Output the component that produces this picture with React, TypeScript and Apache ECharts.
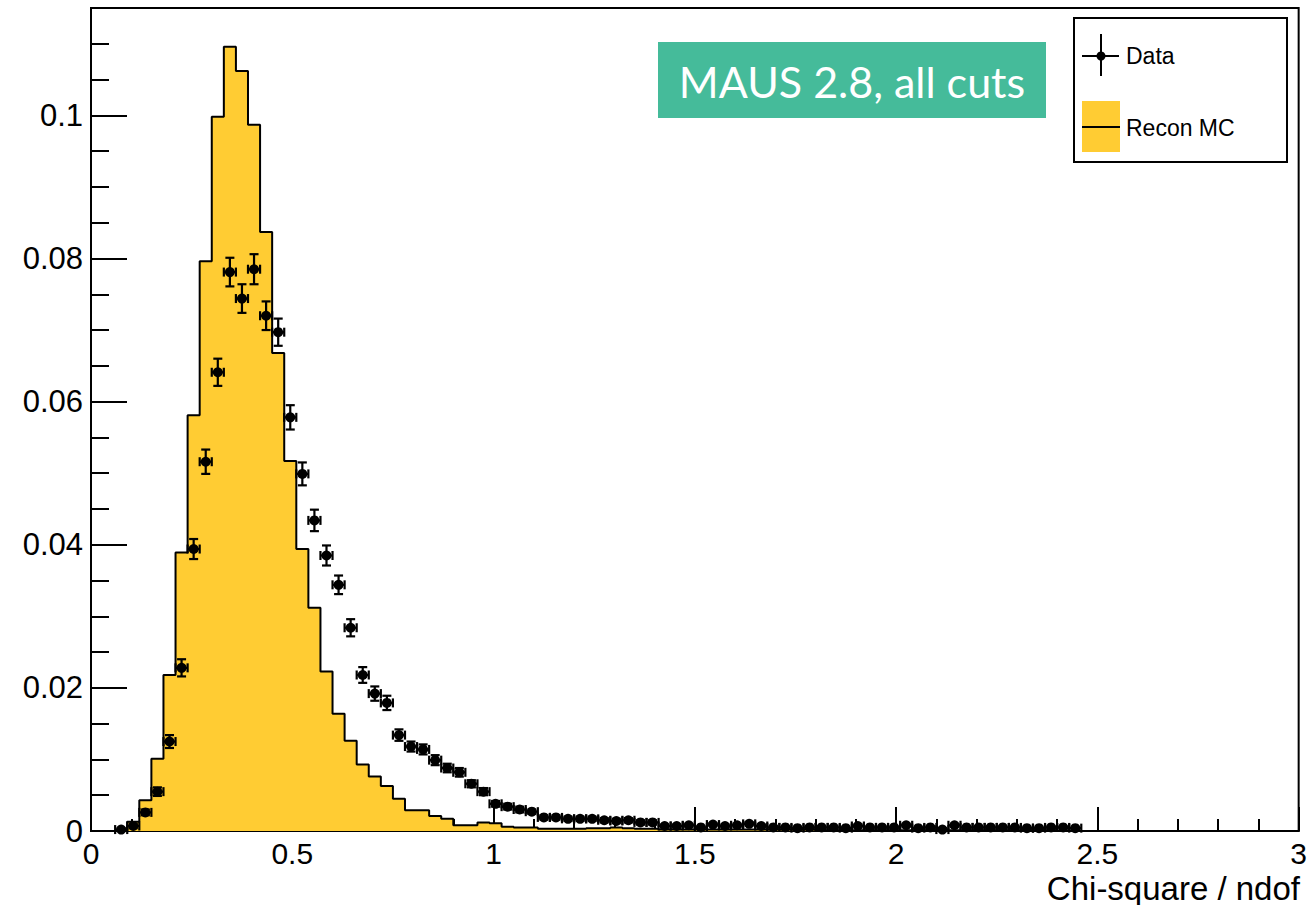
import React, { useEffect, useRef } from 'react';
import * as echarts from 'echarts';

// Histogram binning: 100 bins of width 0.03 over [0, 3]
const binWidth = 0.03;
const xTickLabels = ['0', '0.5', '1', '1.5', '2', '2.5', '3'];
const yTickLabels = ['0', '0.02', '0.04', '0.06', '0.08', '0.1'];

// Recon MC histogram contents (per bin)
const mcValues: number[] = [
  0, 0, 0, 0.0013, 0.0043, 0.0101, 0.0218, 0.0389, 0.0581, 0.0796,
  0.0998, 0.1096, 0.1062, 0.0987, 0.0837, 0.0668, 0.0517, 0.0394, 0.0312, 0.0223,
  0.0164, 0.0126, 0.0093, 0.0076, 0.0063, 0.0045, 0.0029, 0.0029, 0.0021, 0.0017,
  0.0008, 0.0008, 0.0012, 0.0011, 0.0006, 0.0005, 0.0005, 0.0003, 0.0003, 0.0003,
  0.0003, 0.0004, 0.0004, 0.0005, 0.0004, 0.0003, 0.0003, 0.0002, 0.0002, 0.0002,
  0.0002, 0.0002, 0.0002, 0.0002, 0.0002, 0.0002, 0.0002, 0.0002, 0.0002, 0.0002,
  0.0001, 0.0001, 0.0001, 0.0001, 0.0001, 0.0001, 0.0001, 0.0001, 0.0001, 0.0001,
  0.0001, 0.0001, 0.0001, 0.0001, 0.0001, 0.0001, 0.0001, 0.0001, 0.0001, 0.0001,
  0, 0, 0, 0, 0, 0, 0, 0, 0, 0,
  0, 0, 0, 0, 0, 0, 0, 0, 0, 0,
];

// Data histogram contents (per bin, null = empty)
const dataValues: (number | null)[] = [
  null, null, 0.0002, 0.0007, 0.0026, 0.0055, 0.0125, 0.0228, 0.0394, 0.0516,
  0.0641, 0.0781, 0.0744, 0.0785, 0.0720, 0.0697, 0.0578, 0.0499, 0.0434, 0.0385,
  0.0344, 0.0284, 0.0218, 0.0192, 0.0179, 0.0134, 0.0118, 0.0114, 0.0099, 0.0088,
  0.0082, 0.0066, 0.0055, 0.0038, 0.0034, 0.0030, 0.0027, 0.0019, 0.0019, 0.0017,
  0.0017, 0.0017, 0.0015, 0.0014, 0.0015, 0.0012, 0.0012, 0.0007, 0.0007, 0.0008,
  0.0005, 0.0009, 0.0007, 0.0008, 0.0010, 0.0007, 0.0005, 0.0005, 0.0004, 0.0005,
  0.0005, 0.0005, 0.0004, 0.0007, 0.0005, 0.0005, 0.0005, 0.0008, 0.0004, 0.0005,
  0.0002, 0.0008, 0.0005, 0.0005, 0.0005, 0.0005, 0.0005, 0.0004, 0.0004, 0.0005,
  0.0005, 0.0004,
];

// Statistical errors on the data (per bin)
const dataErrors: number[] = [
  0, 0, 0.0002, 0.0003, 0.0004, 0.0006, 0.0009, 0.0012, 0.0014, 0.0017,
  0.0019, 0.0020, 0.0020, 0.0021, 0.0020, 0.0019, 0.0017, 0.0016, 0.0015, 0.0014,
  0.0013, 0.0012, 0.0011, 0.0010, 0.0010, 0.0008, 0.0007, 0.0007, 0.0007, 0.0006,
  0.0006, 0.0005, 0.0005, 0.0004, 0.0004, 0.0004, 0.0003, 0.0003, 0.0003, 0.0003,
  0.0003, 0.0003, 0.0003, 0.0003, 0.0003, 0.0003, 0.0003, 0.0002, 0.0002, 0.0002,
  0.0002, 0.0002, 0.0002, 0.0002, 0.0002, 0.0002, 0.0002, 0.0002, 0.0002, 0.0002,
  0.0002, 0.0002, 0.0002, 0.0002, 0.0002, 0.0002, 0.0002, 0.0002, 0.0002, 0.0002,
  0.0002, 0.0002, 0.0002, 0.0002, 0.0002, 0.0002, 0.0002, 0.0002, 0.0002, 0.0002,
  0.0002, 0.0002,
];

const FONT = '"Liberation Sans", Arial, Helvetica, sans-serif';
const MC_COLOR = '#FFCC33';
const LABEL_COLOR = '#45BB9A';

export default function App() {
  const ref = useRef<HTMLDivElement>(null);

  useEffect(() => {
    if (!ref.current) return;
    const chart = echarts.init(ref.current, undefined, { renderer: 'svg' });

    const stepData: [number, number][] = [];
    mcValues.forEach((v, k) => {
      const lo = +(k * binWidth).toFixed(4);
      const hi = +((k + 1) * binWidth).toFixed(4);
      stepData.push([lo, v], [hi, v]);
    });

    const pointData: [number, number, number][] = [];
    dataValues.forEach((v, k) => {
      if (v === null) return;
      pointData.push([+((k + 0.5) * binWidth).toFixed(4), v, dataErrors[k]]);
    });

    const halfBin = binWidth / 2;

    const option: any = {
      animation: false,
      backgroundColor: '#fff',
      grid: {
        left: 91, top: 8, right: 10, bottom: 74,
        show: true, borderColor: '#000', borderWidth: 2, backgroundColor: 'transparent',
      },
      xAxis: {
        type: 'value', min: 0, max: 3, interval: 0.5,
        axisLine: { show: true, onZero: false, lineStyle: { color: '#000', width: 2 } },
        axisTick: { show: true, inside: true, length: 24, lineStyle: { color: '#000', width: 2 } },
        minorTick: { show: true, splitNumber: 5, length: 12, lineStyle: { color: '#000', width: 2 } },
        splitLine: { show: false },
        axisLabel: {
          color: '#000', fontSize: 30, fontFamily: FONT, margin: 7,
          formatter: (v: number) => xTickLabels[Math.round(v / 0.5)] ?? '',
        },
      },
      yAxis: [
        {
          type: 'value', min: 0, max: 0.115, interval: 0.02, position: 'left',
          axisLine: { show: true, onZero: false, lineStyle: { color: '#000', width: 2 } },
          axisTick: { show: true, inside: true, length: 36, lineStyle: { color: '#000', width: 2 } },
          splitLine: { show: false },
          axisLabel: {
            color: '#000', fontSize: 31, fontFamily: FONT, margin: 8, showMaxLabel: false,
            formatter: (v: number) => {
              const i = Math.round(v / 0.02);
              return Math.abs(i * 0.02 - v) < 1e-6 ? (yTickLabels[i] ?? '') : '';
            },
          },
        },
        {
          type: 'value', min: 0, max: 0.115, interval: 0.005, position: 'left',
          axisLine: { show: false },
          axisTick: { show: true, inside: true, length: 18, lineStyle: { color: '#000', width: 2 } },
          splitLine: { show: false },
          axisLabel: { show: false },
        },
      ],
      series: [
        {
          name: 'Recon MC',
          type: 'line',
          yAxisIndex: 0,
          data: stepData,
          symbol: 'none',
          lineStyle: { color: '#000', width: 2 },
          areaStyle: { color: MC_COLOR, opacity: 1, origin: 'start' },
          z: 2,
        },
        {
          name: 'Data',
          type: 'custom',
          yAxisIndex: 0,
          data: pointData,
          z: 5,
          renderItem: (params: any, api: any) => {
            const x = api.value(0);
            const y = api.value(1);
            const e = api.value(2);
            const c = api.coord([x, y]);
            const l = api.coord([x - halfBin, y]);
            const r = api.coord([x + halfBin, y]);
            const t = api.coord([x, y + e]);
            const b = api.coord([x, y - e]);
            const st = { stroke: '#000', lineWidth: 2.2 };
            const cap = 4.5;
            return {
              type: 'group',
              children: [
                { type: 'line', shape: { x1: l[0], y1: c[1], x2: r[0], y2: c[1] }, style: st },
                { type: 'line', shape: { x1: l[0], y1: c[1] - cap, x2: l[0], y2: c[1] + cap }, style: st },
                { type: 'line', shape: { x1: r[0], y1: c[1] - cap, x2: r[0], y2: c[1] + cap }, style: st },
                { type: 'line', shape: { x1: c[0], y1: t[1], x2: c[0], y2: b[1] }, style: st },
                { type: 'line', shape: { x1: c[0] - cap, y1: t[1], x2: c[0] + cap, y2: t[1] }, style: st },
                { type: 'line', shape: { x1: c[0] - cap, y1: b[1], x2: c[0] + cap, y2: b[1] }, style: st },
                { type: 'circle', shape: { cx: c[0], cy: c[1], r: 5 }, style: { fill: '#000' } },
              ],
            };
          },
        },
      ],
      graphic: [
        {
          type: 'rect', shape: { x: 658, y: 42, width: 388, height: 76 },
          style: { fill: LABEL_COLOR }, z: 10,
        },
        {
          type: 'text', x: 852, y: 81, z: 11,
          style: {
            text: 'MAUS 2.8, all cuts', fill: '#fff', fontSize: 43, fontFamily: 'Lato, "Open Sans", sans-serif',
            align: 'center', verticalAlign: 'middle',
          },
        },
        {
          type: 'rect', shape: { x: 1074, y: 18, width: 213, height: 144 },
          style: { fill: '#fff', stroke: '#000', lineWidth: 2 }, z: 10,
        },
        { type: 'line', shape: { x1: 1082, y1: 56, x2: 1119, y2: 56 }, style: { stroke: '#000', lineWidth: 2 }, z: 11 },
        { type: 'line', shape: { x1: 1101, y1: 34, x2: 1101, y2: 76 }, style: { stroke: '#000', lineWidth: 2 }, z: 11 },
        { type: 'circle', shape: { cx: 1101, cy: 56, r: 4.5 }, style: { fill: '#000' }, z: 11 },
        {
          type: 'text', x: 1126, y: 56, z: 11,
          style: { text: 'Data', fill: '#000', fontSize: 23, fontFamily: FONT, align: 'left', verticalAlign: 'middle' },
        },
        { type: 'rect', shape: { x: 1082, y: 101, width: 38, height: 51 }, style: { fill: MC_COLOR }, z: 11 },
        { type: 'line', shape: { x1: 1082, y1: 127, x2: 1120, y2: 127 }, style: { stroke: '#000', lineWidth: 2 }, z: 12 },
        {
          type: 'text', x: 1126, y: 128, z: 11,
          style: { text: 'Recon MC', fill: '#000', fontSize: 23, fontFamily: FONT, align: 'left', verticalAlign: 'middle' },
        },
        {
          type: 'text', x: 1300, y: 888, z: 11,
          style: {
            text: 'Chi-square / ndof', fill: '#000', fontSize: 33, fontFamily: FONT,
            align: 'right', verticalAlign: 'middle',
          },
        },
      ],
    };

    chart.setOption(option);
    return () => chart.dispose();
  }, []);

  return (
    <div
      ref={ref}
      style={{ position: 'absolute', left: 0, top: 0, width: 1310, height: 905, background: '#fff' }}
    />
  );
}
